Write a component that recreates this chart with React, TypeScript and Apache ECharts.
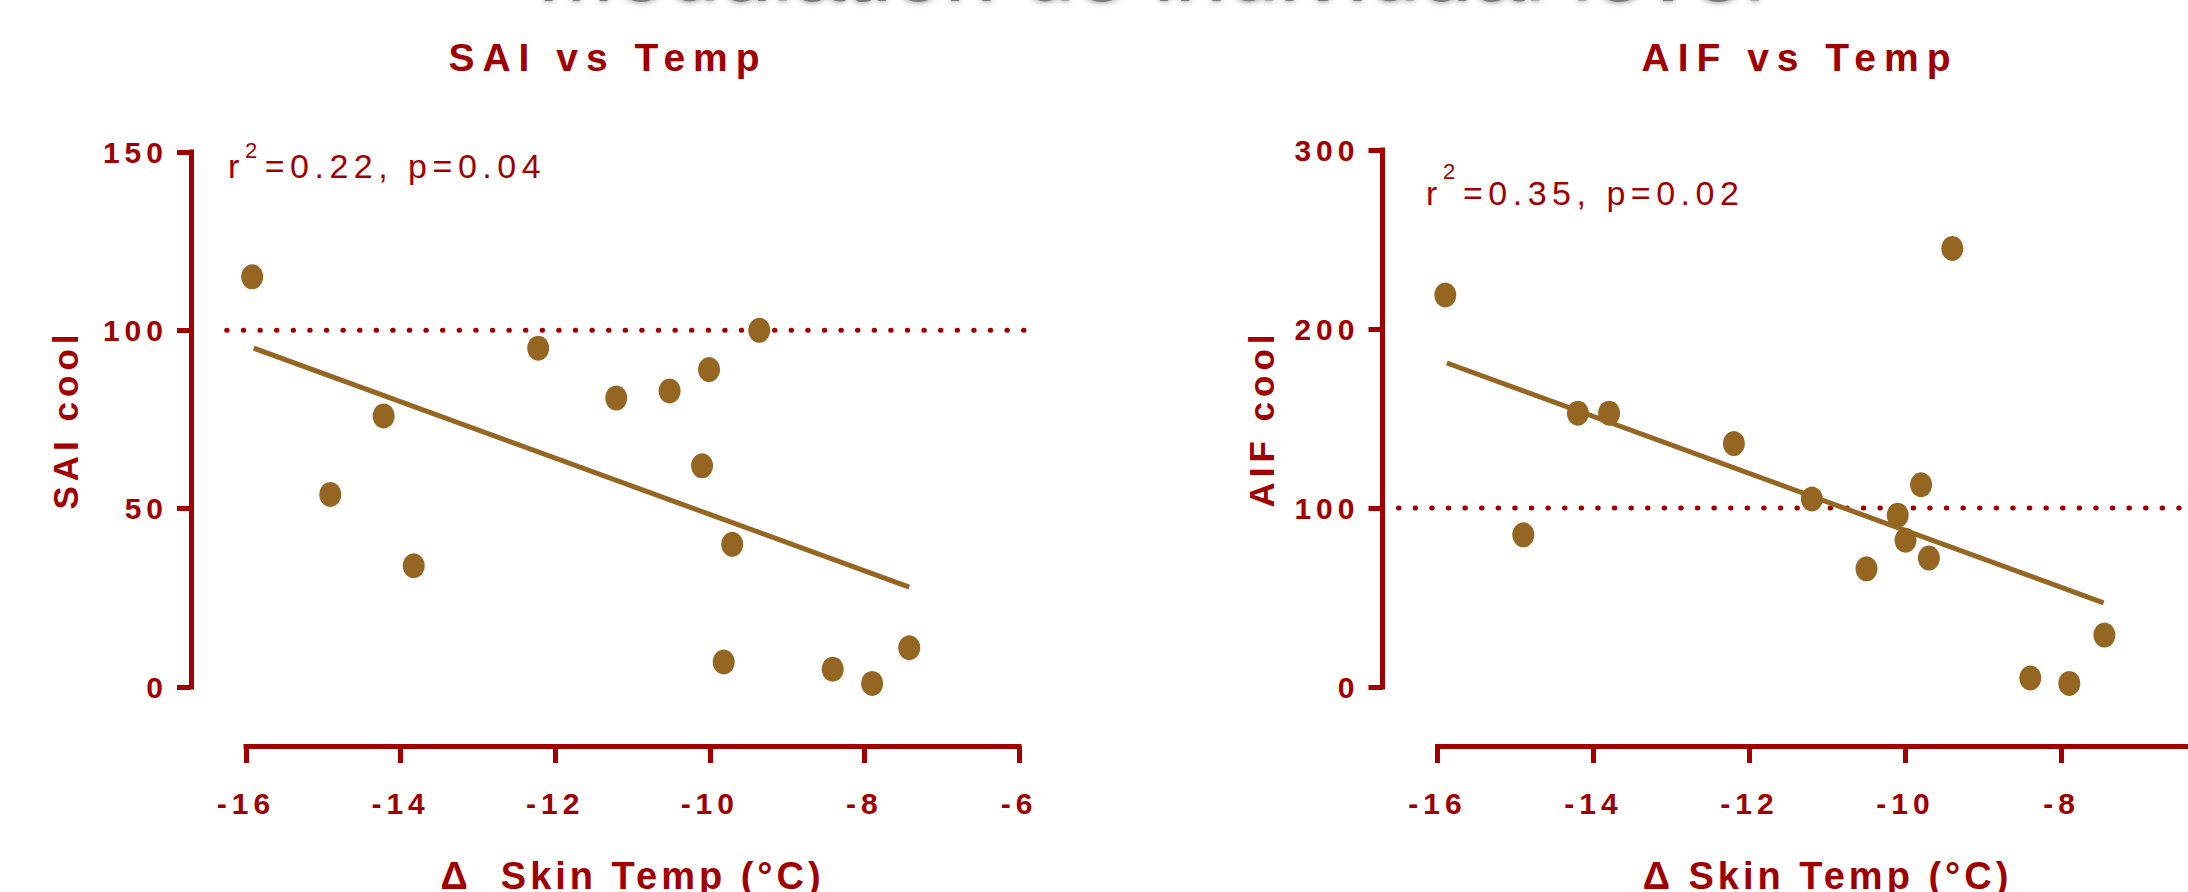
import React, { useEffect, useRef } from 'react';
import * as echarts from 'echarts';

// ---- data ----
const saiTemp = [-15.92, -14.91, -14.22, -13.83, -12.22, -11.21, -10.52, -10.01, -10.1, -9.36, -9.71, -9.82, -8.41, -7.9, -7.42];
const saiCool = [115, 54, 76, 34, 95, 81, 83, 89, 62, 100, 40, 7, 5, 1, 11];
const aifTemp = [-15.9, -14.9, -14.2, -13.8, -12.2, -11.2, -10.5, -10.1, -10.0, -9.8, -9.7, -9.4, -8.4, -7.9, -7.45];
const aifCool = [219, 85, 153, 153, 136, 105, 66, 96, 82, 113, 72, 245, 5, 2, 29];
const saiFit = [[-15.9, 95], [-7.42, 28]];
const aifFit = [[-15.88, 181], [-7.46, 47]];
// reference line: [x start, x end, y]
const saiRef = [[-16.25, -5.92, 100]];
const aifRef = [[-16.5, -5.5, 100]];
const xRange = [-16, -6];
const saiRange = [0, 150];
const aifRange = [0, 300];

const RED = '#A00000';
const BROWN = '#956522';
const FONT = '"Liberation Sans", Arial, sans-serif';

// letter spacing by font size (applied to the svg texts)
const LS: Record<number, number> = { 30: 5, 39: 8, 34: 5.5, 35: 5, 38: 4 };

function applyLetterSpacing(root: HTMLElement) {
  root.querySelectorAll('text').forEach((t) => {
    const fs = Math.round(parseFloat(window.getComputedStyle(t).fontSize));
    const ls = LS[fs];
    if (ls) t.setAttribute('letter-spacing', String(ls));
  });
}

function xAxisFor(i: number, name: string, showMax: boolean) {
  return {
    type: 'value',
    gridIndex: i,
    min: xRange[0],
    max: xRange[1],
    interval: 2,
    position: 'bottom',
    offset: 59,
    axisLine: { show: true, onZero: false, lineStyle: { color: RED, width: 5, cap: 'square' } },
    axisTick: { show: true, length: 17, lineStyle: { color: RED, width: 5 } },
    axisLabel: {
      color: RED,
      fontSize: 30,
      fontWeight: 'bold',
      fontFamily: FONT,
      margin: 42,
      showMaxLabel: showMax,
    },
    splitLine: { show: false },
    name,
    nameLocation: 'middle',
    nameGap: 111,
    nameTextStyle: { color: RED, fontSize: 38, fontWeight: 'bold', fontFamily: FONT },
  };
}

function yAxisFor(i: number, name: string, range: number[], interval: number, gap: number) {
  return {
    type: 'value',
    gridIndex: i,
    min: range[0],
    max: range[1],
    interval,
    position: 'left',
    offset: 55,
    axisLine: { show: true, onZero: false, lineStyle: { color: RED, width: 5, cap: 'square' } },
    axisTick: { show: true, length: 14, lineStyle: { color: RED, width: 5 } },
    axisLabel: {
      color: RED,
      fontSize: 30,
      fontWeight: 'bold',
      fontFamily: FONT,
      margin: 23,
      padding: [7, 0, 0, 0],
    },
    splitLine: { show: false },
    name,
    nameLocation: 'middle',
    nameGap: gap,
    nameTextStyle: { color: RED, fontSize: 35, fontWeight: 'bold', fontFamily: FONT },
  };
}

function refLine(i: number, data: number[][]) {
  return {
    type: 'custom',
    xAxisIndex: i,
    yAxisIndex: i,
    data,
    clip: false,
    silent: true,
    encode: { x: [0, 1], y: 2 },
    renderItem: (params: any, api: any) => {
      const p1 = api.coord([api.value(0), api.value(2)]);
      const p2 = api.coord([api.value(1), api.value(2)]);
      return {
        type: 'line',
        shape: { x1: p1[0], y1: p1[1], x2: p2[0], y2: p2[1] },
        style: { stroke: RED, lineWidth: 5, lineDash: [0.5, 16.1], lineCap: 'round', fill: null },
      };
    },
  };
}

function fitLine(i: number, data: number[][]) {
  return {
    type: 'line',
    xAxisIndex: i,
    yAxisIndex: i,
    data,
    symbol: 'none',
    silent: true,
    lineStyle: { color: BROWN, width: 5 },
  };
}

function scatter(i: number, xs: number[], ys: number[]) {
  return {
    type: 'scatter',
    xAxisIndex: i,
    yAxisIndex: i,
    data: xs.map((x, k) => [x, ys[k]]),
    symbol: 'circle',
    symbolSize: [22, 25],
    itemStyle: { color: BROWN, opacity: 1 },
  };
}

function txt(x: number, y: number, text: string, size: number, weight: string, align: string) {
  return {
    type: 'text',
    x,
    y,
    silent: true,
    style: {
      text,
      fill: RED,
      fontSize: size,
      fontWeight: weight,
      fontFamily: FONT,
      align,
      verticalAlign: 'middle',
    },
  };
}

const option = {
  animation: false,
  backgroundColor: '#ffffff',
  grid: [
    { left: 246, right: 1169, top: 152, bottom: 205, outerBoundsMode: 'none', containLabel: false },
    { left: 1437.5, right: -29.5, top: 150, bottom: 205, outerBoundsMode: 'none', containLabel: false },
  ],
  xAxis: [xAxisFor(0, 'Δ  Skin Temp (°C)', true), xAxisFor(1, 'Δ Skin Temp (°C)', false)],
  yAxis: [yAxisFor(0, 'SAI cool', saiRange, 50, 108), yAxisFor(1, 'AIF cool', aifRange, 100, 104)],
  series: [
    refLine(0, saiRef),
    fitLine(0, saiFit),
    scatter(0, saiTemp, saiCool),
    refLine(1, aifRef),
    fitLine(1, aifFit),
    scatter(1, aifTemp, aifCool),
  ],
  graphic: [
    {
      type: 'text',
      x: 1151,
      y: -32,
      silent: true,
      style: {
        text: 'Modulation de individual level',
        fill: '#7a7a7a',
        fontSize: 94,
        fontFamily: FONT,
        align: 'center',
        verticalAlign: 'middle',
        textShadowBlur: 6,
        textShadowColor: 'rgba(0,0,0,0.5)',
      },
    },
    txt(608, 57.5, 'SAI vs Temp', 39, 'bold', 'center'),
    txt(1800, 57.5, 'AIF vs Temp', 39, 'bold', 'center'),
    txt(228, 165.5, 'r', 34, 'normal', 'left'),
    txt(245, 150, '2', 22, 'normal', 'left'),
    txt(264.7, 165.5, '=0.22, p=0.04', 34, 'normal', 'left'),
    txt(1426, 192.5, 'r', 34, 'normal', 'left'),
    txt(1443, 171, '2', 22, 'normal', 'left'),
    txt(1463, 192.5, '=0.35, p=0.02', 34, 'normal', 'left'),
  ],
};

export default function App() {
  const ref = useRef<HTMLDivElement>(null);
  useEffect(() => {
    const el = ref.current as HTMLDivElement;
    const chart = echarts.init(el, null, { renderer: 'svg' });
    chart.setOption(option as any);
    const apply = () => applyLetterSpacing(el);
    apply();
    chart.on('finished', apply);
    return () => {
      chart.dispose();
    };
  }, []);
  return (
    <div
      ref={ref}
      style={{ position: 'absolute', left: 0, top: 0, width: 2188, height: 892, background: '#fff' }}
    />
  );
}
